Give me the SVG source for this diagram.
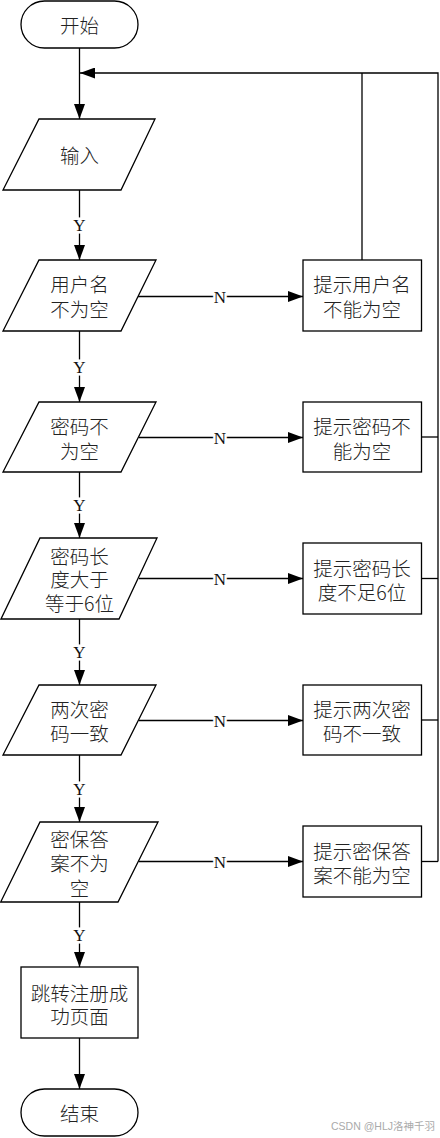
<svg xmlns="http://www.w3.org/2000/svg" width="440" height="1138" viewBox="0 0 440 1138">
<defs>
<marker id="arr" markerUnits="userSpaceOnUse" markerWidth="16" markerHeight="11" refX="15" refY="5.5" orient="auto">
<path d="M0,0 L15,5.5 L0,11 z" fill="#000"/>
</marker>
<style>
.shape{fill:#fff;stroke:#000;stroke-width:1.3}
.t{font-family:"Noto Sans CJK SC","Noto Sans",sans-serif;font-size:19.5px;font-weight:300;fill:#222;text-anchor:middle;dominant-baseline:central}
.c{fill:none;stroke:#000;stroke-width:1.3}
.lbl{font-family:"Liberation Serif",serif;font-size:17px;fill:#111;text-anchor:middle;dominant-baseline:central;stroke:#fff;stroke-width:5;paint-order:stroke}
.wm{font-family:"Liberation Sans","Noto Sans CJK SC",sans-serif;font-size:10.5px;fill:#aaa;text-anchor:end;dominant-baseline:central}
</style>
</defs>
<rect width="440" height="1138" fill="#fff"/>
<g id="connectors">
<path class="c" d="M79.5,48 V119" marker-end="url(#arr)"/>
<path class="c" d="M438,861.5 V73 H80" marker-end="url(#arr)"/>
<path class="c" d="M362,260 V73"/>
<path class="c" d="M421.5,437 H438"/>
<path class="c" d="M421.5,578.5 H438"/>
<path class="c" d="M421.5,720 H438"/>
<path class="c" d="M421.5,861.5 H438"/>
<path class="c" d="M79.5,190 V260" marker-end="url(#arr)"/>
<path class="c" d="M79.5,331 V402" marker-end="url(#arr)"/>
<path class="c" d="M79.5,472 V538" marker-end="url(#arr)"/>
<path class="c" d="M79.5,619 V685" marker-end="url(#arr)"/>
<path class="c" d="M79.5,755 V822" marker-end="url(#arr)"/>
<path class="c" d="M79.5,902 V967" marker-end="url(#arr)"/>
<path class="c" d="M79.5,1038 V1089" marker-end="url(#arr)"/>
<path class="c" d="M138,296.5 H303" marker-end="url(#arr)"/>
<path class="c" d="M139,437.5 H303" marker-end="url(#arr)"/>
<path class="c" d="M139,578.5 H303" marker-end="url(#arr)"/>
<path class="c" d="M139,720.5 H303" marker-end="url(#arr)"/>
<path class="c" d="M139,861.5 H303" marker-end="url(#arr)"/>
<text class="lbl" x="79.5" y="225">Y</text>
<text class="lbl" x="79.5" y="367">Y</text>
<text class="lbl" x="79.5" y="505">Y</text>
<text class="lbl" x="79.5" y="652">Y</text>
<text class="lbl" x="79.5" y="789">Y</text>
<text class="lbl" x="79.5" y="935">Y</text>
<text class="lbl" x="220" y="297">N</text>
<text class="lbl" x="220" y="438">N</text>
<text class="lbl" x="220" y="579">N</text>
<text class="lbl" x="220" y="721">N</text>
<text class="lbl" x="220" y="862">N</text>
</g>
<g id="start">
<rect class="shape" x="21" y="1" width="117" height="47" rx="23.5" ry="23.5"/>
<text class="t" x="79.5" y="24.5">开始</text>
</g>
<g id="input">
<polygon class="shape" points="39,119 155,119 121,190 3,190"/>
<text class="t" x="79.5" y="154.5">输入</text>
</g>
<g id="check-username">
<polygon class="shape" points="39,260 156,260 121,331 3,331"/>
<text class="t" x="79.5" y="283">用户名</text>
<text class="t" x="79.5" y="308">不为空</text>
</g>
<g id="msg-username">
<rect class="shape" x="303" y="260" width="118.5" height="71"/>
<text class="t" x="362" y="283">提示用户名</text>
<text class="t" x="362" y="308">不能为空</text>
</g>
<g id="check-password">
<polygon class="shape" points="39,402 156,402 121,472 3,472"/>
<text class="t" x="79.5" y="425">密码不</text>
<text class="t" x="79.5" y="450">为空</text>
</g>
<g id="msg-password">
<rect class="shape" x="303" y="402" width="118.5" height="70"/>
<text class="t" x="362" y="425">提示密码不</text>
<text class="t" x="362" y="450">能为空</text>
</g>
<g id="check-length">
<polygon class="shape" points="40,538 157,538 119,619 1,619"/>
<text class="t" x="79.5" y="555">密码长</text>
<text class="t" x="79.5" y="578.5">度大于</text>
<text class="t" x="79.5" y="602">等于6位</text>
</g>
<g id="msg-length">
<rect class="shape" x="303" y="543" width="118.5" height="71"/>
<text class="t" x="362" y="567">提示密码长</text>
<text class="t" x="362" y="591">度不足6位</text>
</g>
<g id="check-match">
<polygon class="shape" points="39,685 156,685 121,755 3,755"/>
<text class="t" x="79.5" y="708">两次密</text>
<text class="t" x="79.5" y="732">码一致</text>
</g>
<g id="msg-match">
<rect class="shape" x="303" y="685" width="118.5" height="70"/>
<text class="t" x="362" y="708">提示两次密</text>
<text class="t" x="362" y="732">码不一致</text>
</g>
<g id="check-answer">
<polygon class="shape" points="40,822 158,822 118,902 0.7,902"/>
<text class="t" x="79.5" y="838">密保答</text>
<text class="t" x="79.5" y="862">案不为</text>
<text class="t" x="79.5" y="887">空</text>
</g>
<g id="msg-answer">
<rect class="shape" x="303" y="826" width="118.5" height="71"/>
<text class="t" x="362" y="850">提示密保答</text>
<text class="t" x="362" y="874">案不能为空</text>
</g>
<g id="success">
<rect class="shape" x="21" y="967" width="117" height="71"/>
<text class="t" x="79.5" y="992">跳转注册成</text>
<text class="t" x="79.5" y="1015">功页面</text>
</g>
<g id="end">
<rect class="shape" x="21" y="1089" width="117" height="47" rx="23.5" ry="23.5"/>
<text class="t" x="79.5" y="1112.5">结束</text>
</g>
<text class="wm" x="435" y="1126">CSDN @HLJ洛神千羽</text>
</svg>
